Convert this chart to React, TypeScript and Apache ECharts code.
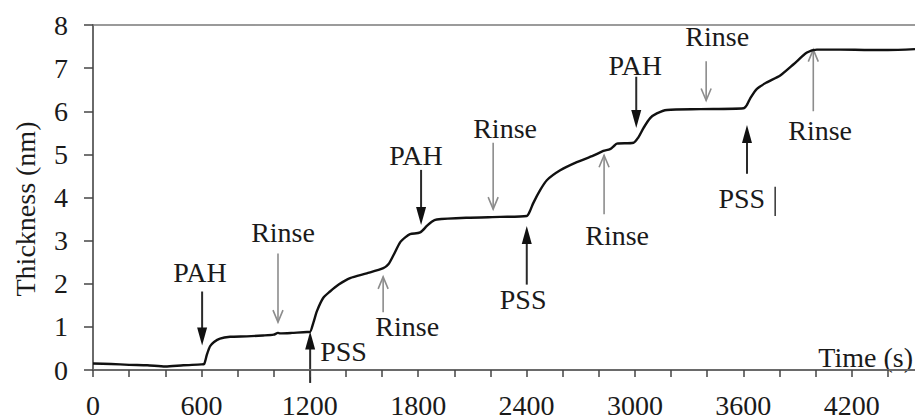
import React, { useEffect, useRef } from "react";
import * as echarts from "echarts";

// Measured curve: time (s) vs thickness (nm)
const times = [
  0, 100, 200, 300, 400, 500, 600, 615, 630, 648, 670, 703, 759, 851, 941, 1000,
  1024, 1035, 1100, 1185, 1200, 1220, 1240, 1274, 1312, 1360, 1423, 1515, 1607,
  1635, 1663, 1700, 1730, 1755, 1811, 1848, 1875, 1903, 2069, 2254, 2401, 2420,
  2437, 2475, 2512, 2586, 2678, 2769, 2825, 2862, 2885, 2900, 2992, 3018, 3047,
  3084, 3121, 3177, 3361, 3601, 3620, 3638, 3675, 3730, 3804, 3878, 3952, 4007,
  4136, 4300, 4400, 4550,
];
const thickness = [
  0.15, 0.14, 0.12, 0.11, 0.08, 0.11, 0.13, 0.14, 0.35, 0.55, 0.65, 0.73, 0.77,
  0.78, 0.8, 0.82, 0.86, 0.85, 0.86, 0.88, 0.88, 1.1, 1.37, 1.67, 1.82, 1.98,
  2.13, 2.24, 2.36, 2.45, 2.66, 2.96, 3.08, 3.15, 3.19, 3.34, 3.44, 3.49, 3.53,
  3.55, 3.57, 3.7, 3.87, 4.17, 4.4, 4.63, 4.82, 4.97, 5.08, 5.12, 5.2, 5.25,
  5.27, 5.39, 5.61, 5.84, 5.95, 6.03, 6.05, 6.07, 6.15, 6.3, 6.52, 6.67, 6.83,
  7.09, 7.36, 7.43, 7.43, 7.42, 7.42, 7.44,
];

const xTickLabels = [0, 600, 1200, 1800, 2400, 3000, 3600, 4200];
const yTickLabels = [0, 1, 2, 3, 4, 5, 6, 7, 8];

// Annotations (data coordinates)
const annLabels = ["PAH", "Rinse", "PSS", "Rinse", "PAH", "Rinse", "PSS", "Rinse", "PAH", "Rinse", "PSS", "Rinse"];
const annSolid = [true, false, true, false, true, false, true, false, true, false, true, false];
const annTimes = [604, 1024, 1202, 1606, 1816, 2215, 2401, 2829, 3007, 3394, 3620, 3987];
const annTails = [1.82, 2.7, -0.3, 1.34, 4.64, 5.27, 1.98, 3.61, 6.8, 7.16, 4.55, 6.0];
const annTips = [0.57, 1.11, 0.89, 2.16, 3.36, 3.73, 3.34, 4.98, 5.61, 6.25, 5.68, 7.43];
const annTextTimes = [592, 1052, 1387, 1739, 1788, 2281, 2381, 2901, 3001, 3455, 3591, 4025];
const annTextValues = [2.27, 3.18, 0.43, 1.0, 4.98, 5.61, 1.64, 3.11, 7.05, 7.73, 3.98, 5.55];
const cursorTime = 3776;
const cursorFrom = 3.57;
const cursorTo = 4.25;

const FONT = '"Liberation Serif", "Times New Roman", Times, serif';

export default function App() {
  const ref = useRef<HTMLDivElement>(null);
  useEffect(() => {
    document.body.style.margin = "0";
    const chart = echarts.init(ref.current!, null, { renderer: "svg" });
    const axisColor = "#6a6a6a";
    chart.setOption({
      animation: false,
      grid: { left: 93, right: 0, top: 25, bottom: 42 },
      xAxis: [
        {
          type: "value",
          min: 0,
          max: 4550,
          interval: 200,
          axisLine: { lineStyle: { color: axisColor, width: 2 } },
          axisTick: { show: true, length: 7, lineStyle: { color: "#444", width: 1.5 } },
          splitLine: { show: false },
          axisLabel: {
            margin: 21,
            fontFamily: FONT,
            fontSize: 28,
            color: "#1a1a1a",
            showMaxLabel: false,
            formatter: (v: number) => (xTickLabels.includes(v) ? String(v) : ""),
          },
        },
        {
          type: "value",
          position: "top",
          min: 0,
          max: 4550,
          axisLine: { show: true, onZero: false, lineStyle: { color: "#7a7a7a", width: 1.5 } },
          axisTick: { show: false },
          axisLabel: { show: false },
          splitLine: { show: false },
        },
      ],
      yAxis: {
        type: "value",
        min: 0,
        max: 8,
        interval: 1,
        axisLine: { show: true, lineStyle: { color: axisColor, width: 2 } },
        axisTick: { show: true, length: 9, lineStyle: { color: "#444", width: 1.5 } },
        splitLine: { show: false },
        axisLabel: {
          margin: 25,
          fontFamily: FONT,
          fontSize: 28,
          color: "#1a1a1a",
          formatter: (v: number) => (yTickLabels.includes(v) ? String(v) : ""),
        },
      },
      series: [
        {
          type: "line",
          data: times.map((t, i) => [t, thickness[i]]),
          showSymbol: false,
          smooth: 0.25,
          lineStyle: { color: "#111", width: 2.4 },
          xAxisIndex: 0,
        },
      ],
    });

    const px = (t: number, v: number) => chart.convertToPixel({ gridIndex: 0 }, [t, v]) as number[];
    const graphics: any[] = [];
    annLabels.forEach((label, i) => {
      const [x, y1] = px(annTimes[i], annTails[i]);
      const [, y2] = px(annTimes[i], annTips[i]);
      const dir = y2 > y1 ? 1 : -1;
      if (annSolid[i]) {
        graphics.push({
          type: "line",
          shape: { x1: x, y1, x2: x, y2: y2 - dir * 14 },
          style: { stroke: "#2a2a2a", lineWidth: 2 },
          silent: true,
        });
        graphics.push({
          type: "polygon",
          shape: { points: [[x - 5, y2 - dir * 18], [x + 5, y2 - dir * 18], [x, y2]] },
          style: { fill: "#111" },
          silent: true,
        });
      } else {
        graphics.push({
          type: "line",
          shape: { x1: x, y1, x2: x, y2 },
          style: { stroke: "#8c8c8c", lineWidth: 1.6 },
          silent: true,
        });
        graphics.push({
          type: "polyline",
          shape: { points: [[x - 5, y2 - dir * 12], [x, y2], [x + 5, y2 - dir * 12]] },
          style: { stroke: "#8c8c8c", lineWidth: 1.6, fill: null },
          silent: true,
        });
      }
      const [tx, ty] = px(annTextTimes[i], annTextValues[i]);
      graphics.push({
        type: "text",
        x: tx,
        y: ty,
        style: {
          text: label,
          align: "center",
          verticalAlign: "middle",
          font: `28px ${FONT}`,
          fill: "#1a1a1a",
        },
        silent: true,
      });
    });
    const [cx, cy1] = px(cursorTime, cursorFrom);
    const [, cy2] = px(cursorTime, cursorTo);
    graphics.push({
      type: "line",
      shape: { x1: cx, y1: cy1, x2: cx, y2: cy2 },
      style: { stroke: "#333", lineWidth: 1.5 },
      silent: true,
    });
    graphics.push({
      type: "text",
      x: 25,
      y: 209,
      rotation: Math.PI / 2,
      style: {
        text: "Thickness (nm)",
        align: "center",
        verticalAlign: "middle",
        font: `28px ${FONT}`,
        fill: "#1a1a1a",
      },
      silent: true,
    });
    graphics.push({
      type: "text",
      x: 913,
      y: 357,
      style: {
        text: "Time (s)",
        align: "right",
        verticalAlign: "middle",
        font: `28px ${FONT}`,
        fill: "#1a1a1a",
      },
      silent: true,
    });
    chart.setOption({ graphic: graphics });

    return () => chart.dispose();
  }, []);
  return <div ref={ref} style={{ width: 915, height: 419 }} />;
}
